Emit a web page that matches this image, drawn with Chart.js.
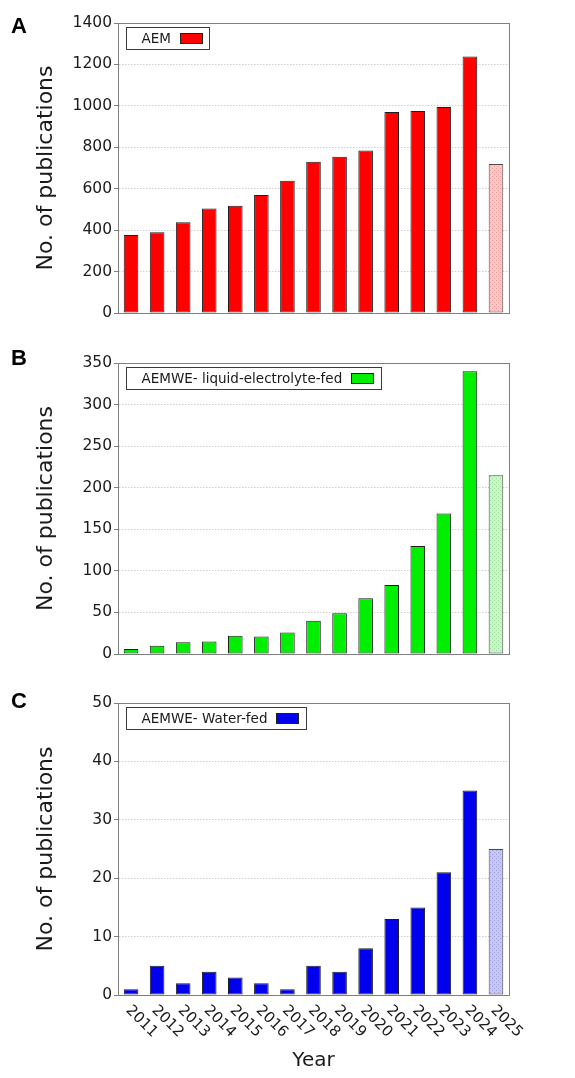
<!DOCTYPE html>
<html>
<head>
<meta charset="utf-8">
<title>Publications per year</title>
<script src="https://cdn.jsdelivr.net/npm/chart.js@4.4.1/dist/chart.umd.min.js"></script>
<style>
  html, body { margin: 0; padding: 0; background: #ffffff; }
  .page { position: relative; width: 575px; height: 1078px; }
  .page canvas { position: absolute; left: 0; display: block; }
</style>
</head>
<body>
<div class="page">
  <canvas id="chart-aem" width="575" height="330" style="top:0px"></canvas>
  <canvas id="chart-liquid" width="575" height="340" style="top:330px"></canvas>
  <canvas id="chart-water" width="575" height="408" style="top:670px"></canvas>
</div>
<script>
const years = ['2011', '2012', '2013', '2014', '2015', '2016', '2017', '2018',
  '2019', '2020', '2021', '2022', '2023', '2024', '2025'];

const aemCounts = [377, 390, 438, 504, 518, 570, 639, 730, 754, 785, 970, 975, 994, 1238, 719];
const liquidFedCounts = [6, 10, 14, 15, 22, 21, 26, 40, 49, 67, 83, 130, 169, 340, 215];
const waterFedCounts = [1, 5, 2, 4, 3, 2, 1, 5, 4, 8, 13, 15, 21, 35, 25];

const aemTicks = [0, 200, 400, 600, 800, 1000, 1200, 1400];
const liquidFedTicks = [0, 50, 100, 150, 200, 250, 300, 350];
const waterFedTicks = [0, 10, 20, 30, 40, 50];

const fontFamily = "'DejaVu Sans', 'Noto Sans', sans-serif";
const textColour = '#1a1a1a';
const axisColour = '#808080';

// light fill with a fine dotted texture for the (partial) 2025 bar
function makeDottedPattern(fill, dot) {
  const tile = document.createElement('canvas');
  tile.width = 4;
  tile.height = 4;
  const tctx = tile.getContext('2d');
  tctx.fillStyle = fill;
  tctx.fillRect(0, 0, 4, 4);
  tctx.fillStyle = dot;
  tctx.fillRect(0, 0, 1, 1);
  tctx.fillRect(2, 2, 1, 1);
  return tile.getContext('2d').createPattern(tile, 'repeat');
}

function barColours(values, main, pattern) {
  return values.map((_, i) => (i === values.length - 1 ? pattern : main));
}

const panelDecor = {
  id: 'panelDecor',
  afterDraw(chart, args, opts) {
    const { ctx, chartArea: area } = chart;
    ctx.save();

    // axes frame on all four sides
    ctx.strokeStyle = axisColour;
    ctx.lineWidth = 1;
    ctx.strokeRect(Math.round(area.left) + 0.5, Math.round(area.top) + 0.5,
      Math.round(area.right - area.left), Math.round(area.bottom - area.top));

    // panel letter
    ctx.fillStyle = '#000000';
    ctx.font = "bold 22px 'Liberation Sans', Arial, sans-serif";
    ctx.textAlign = 'left';
    ctx.textBaseline = 'alphabetic';
    ctx.fillText(opts.letter, opts.letterX, opts.letterY);

    // boxed legend in the upper left corner
    const dataset = chart.data.datasets[0];
    ctx.font = `13.5px ${fontFamily}`;
    const textWidth = ctx.measureText(dataset.label).width;
    const boxX = Math.round(area.left) + 8.5;
    const boxY = Math.round(area.top) + 4.5;
    const boxW = Math.round(15 + textWidth + 9 + 22 + 8);
    const boxH = 22;
    ctx.fillStyle = '#ffffff';
    ctx.fillRect(boxX, boxY, boxW, boxH);
    ctx.strokeStyle = '#3a3a3a';
    ctx.lineWidth = 1;
    ctx.strokeRect(boxX, boxY, boxW, boxH);
    ctx.fillStyle = textColour;
    ctx.textBaseline = 'middle';
    ctx.fillText(dataset.label, boxX + 15, boxY + boxH / 2 + 0.5);
    const swX = Math.round(boxX + 15 + textWidth + 9) + 0.5;
    const swY = boxY + 6;
    ctx.fillStyle = opts.swatch;
    ctx.fillRect(swX, swY, 22, 10);
    ctx.strokeStyle = '#222222';
    ctx.strokeRect(swX, swY, 22, 10);

    // rotated year labels under the bottom panel
    if (opts.yearLabels) {
      const xScale = chart.scales.x;
      ctx.fillStyle = textColour;
      ctx.font = `15px ${fontFamily}`;
      ctx.textAlign = 'left';
      ctx.textBaseline = 'middle';
      chart.data.labels.forEach((label, i) => {
        const x = xScale.getPixelForTick(i);
        ctx.save();
        ctx.translate(x - 3, area.bottom + 13);
        ctx.rotate(Math.PI / 4);
        ctx.fillText(label, 0, 0);
        ctx.restore();
      });
    }
    ctx.restore();
  },
};

function buildChart(canvasId, cfg) {
  const canvas = document.getElementById(canvasId);
  return new Chart(canvas, {
    type: 'bar',
    data: {
      labels: years,
      datasets: [{
        label: cfg.label,
        data: cfg.values,
        backgroundColor: barColours(cfg.values, cfg.colour, cfg.pattern),
        borderColor: cfg.values.map((_, i) => (i === cfg.values.length - 1 ? '#4a4a4a' : '#1e1e1e')),
        borderWidth: 1,
        borderSkipped: false,
        categoryPercentage: 1,
        barPercentage: 0.56,
      }],
    },
    plugins: [panelDecor],
    options: {
      responsive: false,
      animation: false,
      devicePixelRatio: 1,
      layout: {
        padding: { left: 0, right: 66, top: cfg.padTop, bottom: cfg.padBottom },
      },
      scales: {
        x: {
          grid: { display: false },
          border: { display: true, color: axisColour, width: 1 },
          ticks: { display: false },
          afterFit(scale) { scale.height = cfg.xHeight; },
          title: {
            display: cfg.showYear,
            text: 'Year',
            color: textColour,
            font: { family: fontFamily, size: 20 },
            padding: { top: 0, bottom: 5 },
          },
        },
        y: {
          min: 0,
          max: cfg.ticks[cfg.ticks.length - 1],
          afterBuildTicks(scale) {
            scale.ticks = cfg.ticks.map((value) => ({ value }));
          },
          grid: {
            color: '#cfcfcf',
            lineWidth: 1,
            tickLength: 4,
            tickColor: axisColour,
            tickBorderDash: [],
          },
          border: { display: true, color: axisColour, width: 1, dash: [1.5, 1.5] },
          ticks: {
            color: textColour,
            padding: 2,
            font: { family: fontFamily, size: 15.5 },
            callback: (value) => String(value),
          },
          afterFit(scale) { scale.width = 118; },
          title: {
            display: true,
            text: 'No. of publications',
            color: textColour,
            font: { family: fontFamily, size: 22 },
            padding: { top: 33, bottom: 0 },
          },
        },
      },
      plugins: {
        legend: { display: false },
        tooltip: { enabled: false },
        panelDecor: {
          letter: cfg.letter,
          letterX: 11,
          letterY: cfg.letterY,
          swatch: cfg.colour,
          yearLabels: cfg.showYear,
        },
      },
    },
  });
}

document.addEventListener('DOMContentLoaded', () => {
  buildChart('chart-aem', {
    label: 'AEM',
    values: aemCounts,
    colour: '#ff0000',
    pattern: makeDottedPattern('#ffc6c6', '#e89a9a'),
    ticks: aemTicks,
    letter: 'A',
    letterY: 33,
    padTop: 23,
    padBottom: 17,
    xHeight: 0,
    showYear: false,
  });

  buildChart('chart-liquid', {
    label: 'AEMWE- liquid-electrolyte-fed',
    values: liquidFedCounts,
    colour: '#00ee00',
    pattern: makeDottedPattern('#c8f7c8', '#9ad89a'),
    ticks: liquidFedTicks,
    letter: 'B',
    letterY: 35,
    padTop: 33,
    padBottom: 16,
    xHeight: 0,
    showYear: false,
  });

  buildChart('chart-water', {
    label: 'AEMWE- Water-fed',
    values: waterFedCounts,
    colour: '#0000ee',
    pattern: makeDottedPattern('#c8c8f5', '#9a9ad8'),
    ticks: waterFedTicks,
    letter: 'C',
    letterY: 38,
    padTop: 33,
    padBottom: 0,
    xHeight: 83,
    showYear: true,
  });
});
</script>
</body>
</html>
